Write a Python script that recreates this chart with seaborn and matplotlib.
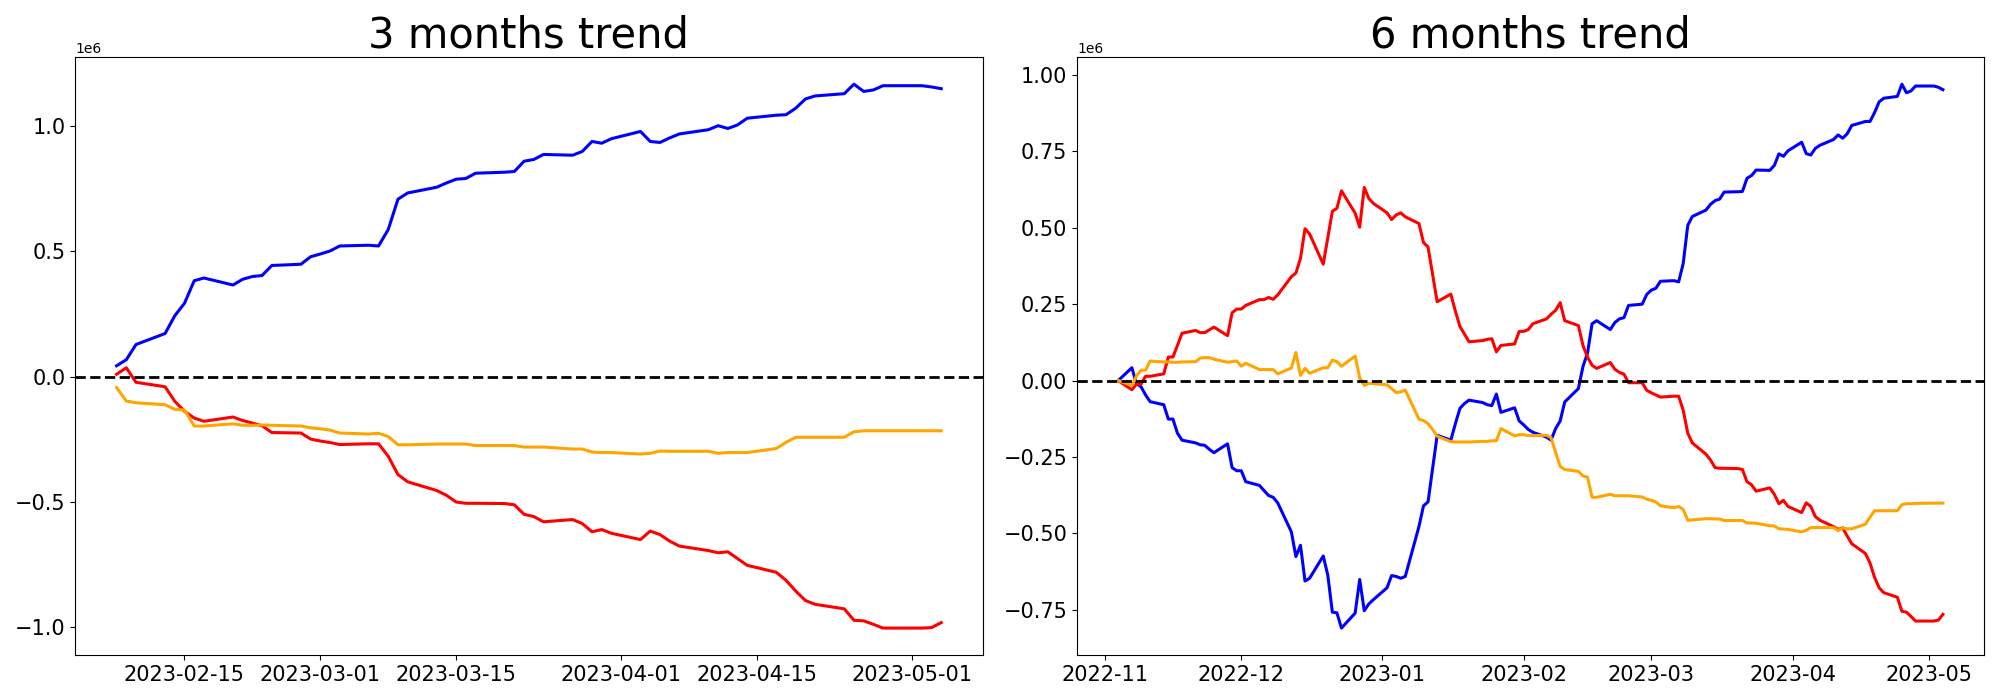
import pandas as pd
import matplotlib
matplotlib.use("Agg")
import matplotlib.pyplot as plt
import seaborn as sns

# values in millions, one per business day
SCALE = 1e6

# 3 months: 2023-02-08 .. 2023-05-04
dates_3m = pd.bdate_range("2023-02-08", "2023-05-04")
blue_3m = [
    0.043, 0.067, 0.128, 0.172, 0.243, 0.293, 0.383, 0.394, 0.366, 0.389, 0.400, 0.404, 0.444, 0.449, 0.479,
    0.490, 0.502, 0.522, 0.525, 0.522, 0.588, 0.709, 0.734, 0.757, 0.774, 0.789, 0.792, 0.813, 0.817, 0.820,
    0.861, 0.868, 0.888, 0.885, 0.900, 0.940, 0.933, 0.951,
    0.980, 0.940, 0.936, 0.954, 0.970, 0.987, 1.003, 0.992, 1.006, 1.033, 1.045, 1.047, 1.073, 1.110, 1.122,
    1.131, 1.169, 1.140, 1.146, 1.163,
    1.163, 1.163, 1.158, 1.151,
]
red_3m = [
    0.009, 0.035, -0.023, -0.041, -0.099, -0.139, -0.166, -0.179, -0.162, -0.176, -0.186, -0.197, -0.224, -0.226, -0.250,
    -0.258, -0.264, -0.272, -0.269, -0.269, -0.319, -0.392, -0.421, -0.456, -0.475, -0.502, -0.507, -0.507, -0.508,
    -0.513, -0.551, -0.560, -0.581, -0.572, -0.588, -0.621, -0.612, -0.627,
    -0.652, -0.618, -0.632, -0.658, -0.678, -0.696, -0.705, -0.701, -0.728, -0.755, -0.783, -0.815, -0.858, -0.896,
    -0.911, -0.929, -0.975, -0.977, -0.991, -1.006,
    -1.006, -1.006, -1.004, -0.984,
]
orange_3m = [
    -0.044, -0.098, -0.105, -0.113, -0.131, -0.134, -0.198, -0.198, -0.189, -0.195, -0.195, -0.194, -0.195, -0.198, -0.205,
    -0.209, -0.214, -0.226, -0.230, -0.227, -0.240, -0.273, -0.273, -0.270, -0.270, -0.270, -0.270, -0.276, -0.276,
    -0.276, -0.282, -0.282, -0.282, -0.290, -0.290, -0.302, -0.304, -0.304,
    -0.310, -0.307, -0.298, -0.299, -0.299, -0.299, -0.307, -0.304, -0.304, -0.304, -0.288, -0.263, -0.243, -0.243,
    -0.243, -0.243, -0.221, -0.217, -0.217, -0.217,
    -0.217, -0.217, -0.217, -0.217,
]

# 6 months: 2022-11-04 .. 2023-05-04
dates_6m = pd.bdate_range("2022-11-04", "2023-05-04")
blue_6m = [
    # Nov
    0.000, 0.042, -0.010, -0.020, -0.047, -0.069, -0.079, -0.126, -0.126, -0.172, -0.195, -0.204, -0.210, -0.212,
    -0.225, -0.236, -0.207, -0.285, -0.295,
    # Dec
    -0.295, -0.331, -0.343, -0.360, -0.376, -0.382, -0.400, -0.495, -0.576, -0.539, -0.656, -0.647, -0.574, -0.637,
    -0.758, -0.760, -0.810, -0.761, -0.651, -0.753, -0.731, -0.717,
    # Jan
    -0.678, -0.638, -0.641, -0.647, -0.641, -0.478, -0.410, -0.397, -0.287, -0.179, -0.195, -0.141, -0.091, -0.075,
    -0.064, -0.072, -0.079, -0.082, -0.044, -0.104, -0.089, -0.132,
    # Feb
    -0.145, -0.160, -0.169, -0.185, -0.195, -0.157, -0.132, -0.070, -0.026, 0.046, 0.090, 0.186, 0.196, 0.167,
    0.190, 0.202, 0.206, 0.246, 0.250, 0.282,
    # Mar
    0.296, 0.302, 0.325, 0.327, 0.323, 0.383, 0.508, 0.537, 0.558, 0.577, 0.589, 0.594, 0.617, 0.618, 0.619,
    0.662, 0.671, 0.689, 0.688, 0.704, 0.742, 0.734, 0.752,
    # Apr
    0.780, 0.743, 0.738, 0.760, 0.770, 0.789, 0.804, 0.793, 0.808, 0.835, 0.848, 0.848, 0.877, 0.912, 0.924,
    0.930, 0.970, 0.942, 0.948, 0.964,
    # May
    0.964, 0.964, 0.960, 0.952,
]
red_6m = [
    0.000, -0.030, -0.012, -0.012, 0.014, 0.014, 0.022, 0.077, 0.077, 0.115, 0.155, 0.164, 0.157, 0.157,
    0.166, 0.175, 0.147, 0.222, 0.234,
    0.234, 0.246, 0.265, 0.265, 0.272, 0.266, 0.280, 0.340, 0.352, 0.400, 0.497, 0.480, 0.381, 0.468,
    0.554, 0.564, 0.621, 0.548, 0.502, 0.632, 0.596, 0.580,
    0.549, 0.527, 0.542, 0.549, 0.536, 0.514, 0.452, 0.437, 0.348, 0.258, 0.283, 0.227, 0.177, 0.152,
    0.127, 0.131, 0.135, 0.137, 0.094, 0.115, 0.120, 0.161,
    0.161, 0.167, 0.186, 0.202, 0.217, 0.230, 0.255, 0.196, 0.180, 0.115, 0.077, 0.050, 0.040, 0.059,
    0.037, 0.027, 0.021, -0.007, -0.007, -0.032,
    -0.040, -0.047, -0.054, -0.051, -0.051, -0.097, -0.172, -0.204, -0.241, -0.260, -0.285, -0.287, -0.287,
    -0.288, -0.291, -0.331, -0.341, -0.362, -0.351, -0.372, -0.403, -0.392, -0.412,
    -0.432, -0.400, -0.412, -0.445, -0.457, -0.478, -0.487, -0.482, -0.509, -0.534, -0.566, -0.597, -0.644,
    -0.678, -0.694, -0.709, -0.755, -0.758, -0.772, -0.787,
    -0.787, -0.787, -0.784, -0.765,
]
orange_6m = [
    0.000, -0.016, 0.015, 0.034, 0.034, 0.064, 0.061, 0.061, 0.060, 0.060, 0.061, 0.062, 0.074, 0.075,
    0.075, 0.070, 0.060, 0.062, 0.064,
    0.047, 0.057, 0.036, 0.036, 0.036, 0.036, 0.022, 0.041, 0.092, 0.017, 0.040, 0.024, 0.042, 0.042,
    0.067, 0.062, 0.047, 0.080, 0.009, -0.016, -0.009, -0.010,
    -0.014, -0.026, -0.039, -0.037, -0.031, -0.126, -0.131, -0.141, -0.160, -0.182, -0.200, -0.201, -0.201, -0.201,
    -0.201, -0.199, -0.199, -0.197, -0.197, -0.157, -0.181, -0.177,
    -0.177, -0.180, -0.180, -0.179, -0.187, -0.235, -0.281, -0.291, -0.297, -0.312, -0.316, -0.382, -0.382, -0.372,
    -0.377, -0.377, -0.377, -0.377, -0.381, -0.388,
    -0.392, -0.397, -0.410, -0.416, -0.412, -0.422, -0.457, -0.456, -0.452, -0.452, -0.453, -0.453, -0.458,
    -0.458, -0.458, -0.466, -0.466, -0.467, -0.475, -0.476, -0.485, -0.486, -0.487,
    -0.495, -0.490, -0.481, -0.481, -0.481, -0.481, -0.491, -0.482, -0.485, -0.485, -0.470, -0.447, -0.426,
    -0.426, -0.426, -0.426, -0.406, -0.403, -0.403, -0.402,
    -0.401, -0.401, -0.401, -0.401,
]

series_names = ["blue", "red", "orange"]
palette = {"blue": "blue", "red": "red", "orange": "orange"}


def to_long(dates, blue, red, orange):
    df = pd.DataFrame({"date": dates, "blue": blue, "red": red, "orange": orange})
    df = df.melt(id_vars="date", var_name="series", value_name="value")
    df["value"] = df["value"] * SCALE
    return df


df_3m = to_long(dates_3m, blue_3m, red_3m, orange_3m)
df_6m = to_long(dates_6m, blue_6m, red_6m, orange_6m)

fig, axes = plt.subplots(1, 2, figsize=(20, 7), dpi=100)

for ax, df, title in [(axes[0], df_3m, "3 months trend"), (axes[1], df_6m, "6 months trend")]:
    sns.lineplot(
        data=df, x="date", y="value", hue="series", hue_order=series_names,
        palette=palette, estimator=None, linewidth=2.2, legend=False, ax=ax
    )
    ax.axhline(0, color="black", linestyle="--", linewidth=2)
    ax.set_title(title, fontsize=30)
    ax.set_xlabel("")
    ax.set_ylabel("")
    ax.tick_params(axis="both", labelsize=15)

plt.tight_layout()
plt.savefig("out.png")
